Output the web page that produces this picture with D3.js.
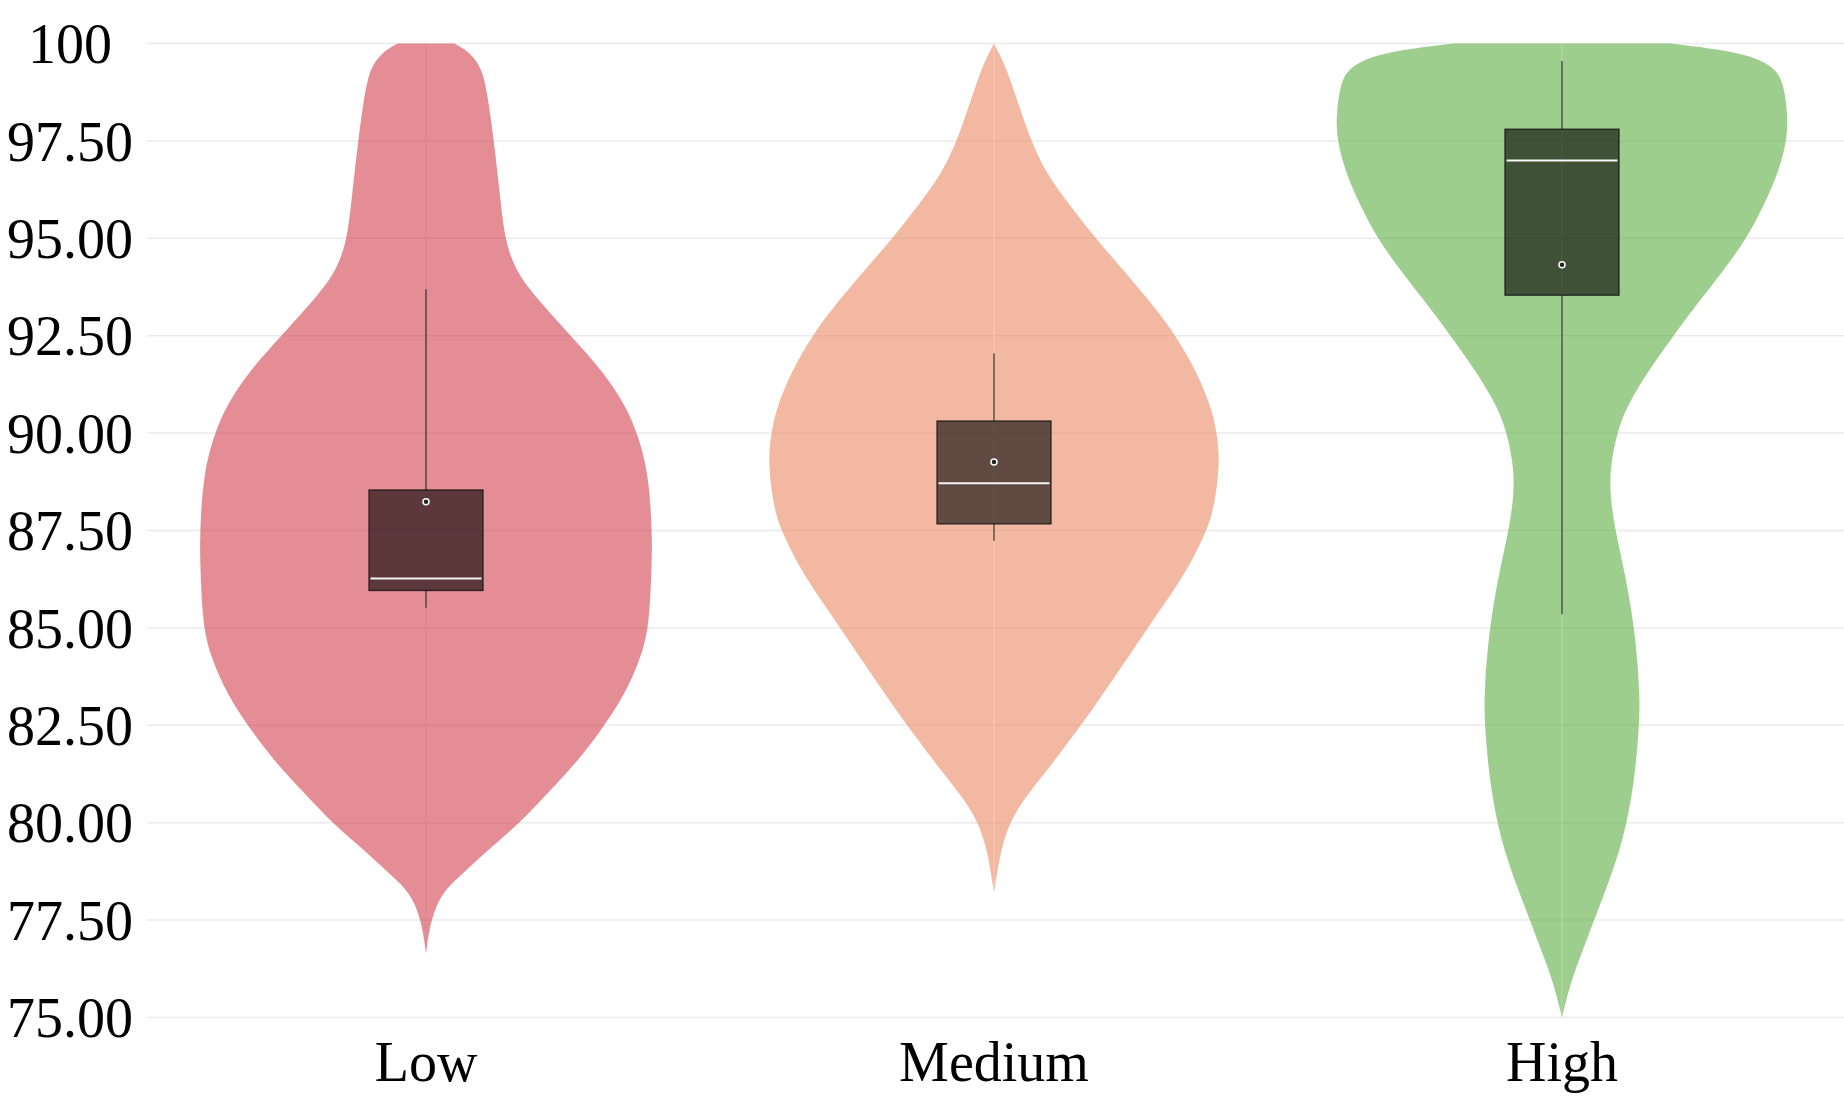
<!DOCTYPE html>
<html>
<head>
<meta charset="utf-8">
<script src="https://cdn.jsdelivr.net/npm/d3@7"></script>
<style>
  html, body { margin: 0; padding: 0; background: #ffffff; }
  svg { display: block; }
</style>
</head>
<body>
<svg id="chart" width="1844" height="1099"></svg>
<script>
// ---------------- data ----------------
const categories = ["Low", "Medium", "High"];
const tickValues = [75, 77.5, 80, 82.5, 85, 87.5, 90, 92.5, 95, 97.5, 100];
const tickLabels = ["75.00", "77.50", "80.00", "82.50", "85.00", "87.50", "90.00", "92.50", "95.00", "97.50", "100"];

// violin outlines: score values and relative half-widths (density, max = 1)
const lowValues   = [100, 99.85, 99.6, 99.23, 98.38, 97.5, 96.24, 95.0, 94.27, 93.68, 92.5, 91.54, 90.68, 90.0, 88.97, 87.5, 86.74, 85.0, 84.2, 83.3, 82.5, 81.6, 80.77, 80.0, 79.23, 78.6, 78.2, 77.5, 76.65];
const lowDensity  = [0.125, 0.175, 0.218, 0.255, 0.28, 0.30, 0.325, 0.347, 0.39, 0.455, 0.64, 0.79, 0.885, 0.935, 0.985, 1.0, 1.0, 0.988, 0.948, 0.88, 0.79, 0.675, 0.54, 0.417, 0.26, 0.145, 0.07, 0.02, 0];

const mediumValues  = [100, 99.66, 99.23, 98.38, 97.5, 96.67, 95.81, 95.0, 94.1, 93.24, 92.5, 91.54, 90.68, 90.0, 89.23, 88.1, 87.5, 86.58, 85.73, 85.0, 84.0, 83.16, 82.5, 81.45, 80.6, 80.0, 79.32, 78.2];
const mediumDensity = [0, 0.031, 0.063, 0.112, 0.164, 0.23, 0.34, 0.45, 0.584, 0.71, 0.805, 0.90, 0.96, 0.987, 1.0, 0.975, 0.942, 0.864, 0.768, 0.68, 0.565, 0.465, 0.385, 0.25, 0.13, 0.07, 0.03, 0];

const highValues  = [100, 99.76, 99.4, 98.97, 98.1, 97.5, 96.67, 95.81, 95.0, 94.1, 93.24, 92.5, 91.54, 90.68, 90.0, 88.8, 87.5, 86.52, 85.0, 83.33, 82.5, 81.2, 80.0, 79.0, 78.1, 77.5, 76.6, 75.9, 75.0];
const highDensity = [0.48, 0.817, 0.94, 0.982, 1.0, 0.994, 0.957, 0.89, 0.817, 0.706, 0.588, 0.493, 0.375, 0.286, 0.242, 0.202, 0.235, 0.275, 0.322, 0.345, 0.342, 0.323, 0.288, 0.24, 0.182, 0.142, 0.084, 0.038, 0];

// box statistics per category (Low, Medium, High)
const whiskerLow  = [85.52, 87.24, 85.35];
const q1Values    = [85.96, 87.67, 93.54];
const medians     = [86.27, 88.71, 97.00];
const q3Values    = [88.54, 90.31, 97.80];
const whiskerHigh = [93.69, 92.05, 99.55];
const means       = [88.24, 89.26, 94.32];

const violinColors = ["rgb(212,65,78)", "rgb(235,137,100)", "rgb(93,173,65)"];

// ---------------- layout ----------------
const W = 1844, H = 1099;
const svg = d3.select("#chart");
svg.append("rect").attr("width", W).attr("height", H).attr("fill", "#ffffff");

const y = d3.scaleLinear().domain([75, 100]).range([1017.5, 43.5]);
const x = d3.scaleBand().domain(categories).range([142, 1846]).padding(0);
const halfWidth = 226;
const boxHalf = 57;

// gridlines
svg.append("g").selectAll("line").data(tickValues).join("line")
  .attr("x1", 147).attr("x2", W)
  .attr("y1", d => y(d)).attr("y2", d => y(d))
  .attr("stroke", "#ebebeb").attr("stroke-width", 1.5);

// y tick labels
svg.append("g").selectAll("text").data(tickValues).join("text")
  .attr("x", 70).attr("y", d => y(d)).attr("dy", "0.35em")
  .attr("text-anchor", "middle")
  .attr("font-family", "'Liberation Serif', 'Times New Roman', serif")
  .attr("font-size", 56).attr("fill", "#000")
  .text((d, i) => tickLabels[i]);

// x labels
svg.append("g").selectAll("text").data(categories).join("text")
  .attr("x", d => x(d) + x.bandwidth() / 2).attr("y", 1081)
  .attr("text-anchor", "middle")
  .attr("font-family", "'Liberation Serif', 'Times New Roman', serif")
  .attr("font-size", 56).attr("fill", "#000")
  .text(d => d);

const outlines = [
  d3.zip(lowValues, lowDensity),
  d3.zip(mediumValues, mediumDensity),
  d3.zip(highValues, highDensity)
];

const wScale = d3.scaleLinear().domain([0, 1]).range([0, halfWidth]);

categories.forEach((cat, i) => {
  const cx = x(cat) + x.bandwidth() / 2;
  const g = svg.append("g");
  const area = d3.area()
    .y(d => y(d[0]))
    .x0(d => cx - wScale(d[1]))
    .x1(d => cx + wScale(d[1]))
    .curve(d3.curveBasis);
  g.append("path").datum(outlines[i])
    .attr("d", area)
    .attr("fill", violinColors[i]).attr("fill-opacity", 0.6);

  // faint centre seam
  const ext = d3.extent(outlines[i], d => d[0]);
  g.append("line")
    .attr("x1", cx).attr("x2", cx)
    .attr("y1", y(ext[1])).attr("y2", y(ext[0]))
    .attr("stroke", i === 0 ? "rgba(0,0,0,0.04)" : "rgba(255,255,255,0.25)")
    .attr("stroke-width", 1);

  // whiskers
  g.append("line").attr("x1", cx).attr("x2", cx)
    .attr("y1", y(whiskerHigh[i])).attr("y2", y(q3Values[i]))
    .attr("stroke", "#333").attr("stroke-width", 1.2);
  g.append("line").attr("x1", cx).attr("x2", cx)
    .attr("y1", y(q1Values[i])).attr("y2", y(whiskerLow[i]))
    .attr("stroke", "#333").attr("stroke-width", 1.2);

  // box
  g.append("rect")
    .attr("x", cx - boxHalf).attr("width", boxHalf * 2)
    .attr("y", y(q3Values[i])).attr("height", y(q1Values[i]) - y(q3Values[i]))
    .attr("fill", "rgba(0,0,0,0.6)")
    .attr("stroke", "rgba(20,20,20,0.85)").attr("stroke-width", 1.3);

  // median
  g.append("line")
    .attr("x1", cx - boxHalf + 1.5).attr("x2", cx + boxHalf - 1.5)
    .attr("y1", y(medians[i])).attr("y2", y(medians[i]))
    .attr("stroke", "#f4f4f4").attr("stroke-width", 2);

  // mean marker
  g.append("circle")
    .attr("cx", cx).attr("cy", y(means[i])).attr("r", 3)
    .attr("fill", "#222").attr("stroke", "#ffffff").attr("stroke-width", 1.5);
});
</script>
</body>
</html>
